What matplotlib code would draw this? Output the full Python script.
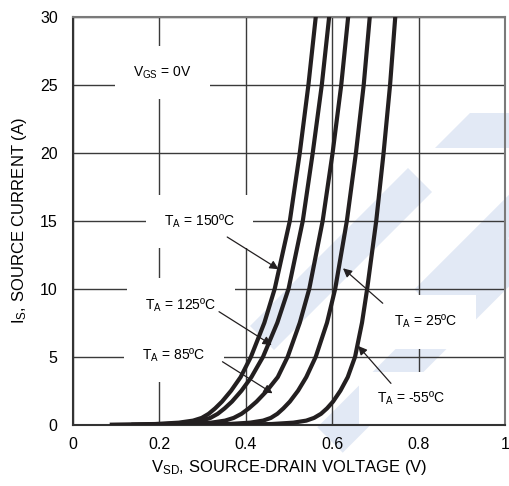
import matplotlib
matplotlib.use("Agg")
import matplotlib.pyplot as plt
import numpy as np
from matplotlib.patches import Polygon

plt.rcParams['font.family'] = ['Liberation Sans', 'DejaVu Sans']
plt.rcParams['mathtext.default'] = 'regular'

# Source current levels (A) at which the forward voltage was read
current = [0, 0.05, 0.15, 0.3, 0.5, 0.8, 1.2, 1.7, 2.5, 3.5, 5, 7.5, 10, 15, 20, 25, 30]

# Source-drain voltage (V) for each junction temperature
v_150 = [0.085, 0.19, 0.245, 0.278, 0.298, 0.314, 0.329, 0.345, 0.366, 0.388, 0.412,
         0.443, 0.467, 0.502, 0.525, 0.545, 0.562]
v_125 = [0.135, 0.215, 0.265, 0.298, 0.318, 0.335, 0.351, 0.368, 0.390, 0.413, 0.440,
         0.473, 0.499, 0.532, 0.555, 0.576, 0.593]
v_85 = [0.20, 0.27, 0.32, 0.352, 0.372, 0.39, 0.407, 0.425, 0.449, 0.474, 0.497,
        0.525, 0.547, 0.578, 0.601, 0.621, 0.637]
v_25 = [0.28, 0.36, 0.41, 0.44, 0.458, 0.473, 0.487, 0.502, 0.521, 0.540, 0.562,
        0.588, 0.607, 0.634, 0.655, 0.673, 0.687]
v_m55 = [0.38, 0.46, 0.51, 0.54, 0.558, 0.574, 0.588, 0.602, 0.619, 0.636, 0.653,
         0.669, 0.681, 0.702, 0.719, 0.734, 0.746]

curves = [v_150, v_125, v_85, v_25, v_m55]

# label text, label position, arrow tail, arrow tip (data coords)
labels = [
    (r'T$_{A}$ = 150ºC', (0.292, 14.93), (0.357, 13.8), (0.476, 11.43)),
    (r'T$_{A}$ = 125ºC', (0.250, 8.80), (0.338, 8.31), (0.460, 5.86)),
    (r'T$_{A}$ = 85ºC', (0.234, 5.13), (0.346, 4.63), (0.462, 2.31)),
    (r'T$_{A}$ = 25ºC', (0.817, 7.57), (0.717, 8.93), (0.625, 11.5)),
    (r'T$_{A}$ = -55ºC', (0.782, 1.94), (0.736, 3.04), (0.660, 5.79)),
]

W, H = 509, 486
fig = plt.figure(figsize=(W / 100, H / 100), dpi=100)
ax = fig.add_axes([73 / W, 1 - 424.7 / H, 432 / W, 408 / H])
ax.set_facecolor('none')


def band(p0, p1, width):
    # parallelogram along p0->p1 (figure pixels, y down) with the given width
    p0, p1 = np.array(p0, float), np.array(p1, float)
    d = (p1 - p0) / np.hypot(*(p1 - p0))
    n = np.array([-d[1], d[0]]) * width / 2
    pts = [p0 + n, p1 + n, p1 - n, p0 - n]
    return [(x / W, 1 - y / H) for x, y in pts]


# faint logo stripes behind the plot
stripe_color = '#e2e9f5'
logo = [
    band((262, 338), (420, 180), 34),
    band((330, 440), (520, 250), 36),
    band((425, 300), (520, 205), 30),
]
for pts in logo:
    fig.add_artist(Polygon(pts, closed=True, transform=fig.transFigure,
                           facecolor=stripe_color, edgecolor='none', zorder=-1))
top_piece = [(435, 148), (470, 113), (509, 113), (509, 148)]
fig.add_artist(Polygon([(x / W, 1 - y / H) for x, y in top_piece], closed=True,
                       transform=fig.transFigure, facecolor=stripe_color,
                       edgecolor='none', zorder=-1))

for v in curves:
    ax.plot(v, current, color='#231f20', lw=3, solid_capstyle='butt', zorder=3)

ax.set_xlim(0, 1)
ax.set_ylim(0, 30)
ax.set_xticks([0, 0.2, 0.4, 0.6, 0.8, 1])
ax.set_xticklabels(['0', '0.2', '0.4', '0.6', '0.8', '1'])
ax.set_yticks([0, 5, 10, 15, 20, 25, 30])
ax.tick_params(length=0, labelsize=11.5, pad=11)
ax.tick_params(axis='x', pad=9)
ax.grid(True, color='#3a3a3a', lw=1)
ax.set_axisbelow(True)
for side in ax.spines:
    ax.spines[side].set_color('#7a7a7a')
    ax.spines[side].set_linewidth(1.5)
ax.spines['bottom'].set_color('#333333')
ax.spines['left'].set_color('#333333')

ax.set_xlabel(r'V$_{SD}$, SOURCE-DRAIN VOLTAGE (V)', fontsize=12, labelpad=4)
ax.set_ylabel(r'I$_{S}$, SOURCE CURRENT (A)', fontsize=12, labelpad=8)

box = dict(boxstyle='square,pad=1.3', facecolor='white', edgecolor='none')
ax.text(0.207, 25.9, r'V$_{GS}$ = 0V', fontsize=10, ha='center', va='center',
        bbox=box, zorder=2)

for text, pos, start, tip in labels:
    ax.text(pos[0], pos[1], text, fontsize=10, ha='center', va='center',
            bbox=box, zorder=2)
    ax.annotate('', xy=tip, xytext=start,
                arrowprops=dict(arrowstyle='-|>', color='#231f20', lw=0.9,
                                mutation_scale=13, shrinkA=0, shrinkB=0),
                zorder=4)

fig.savefig('out.png', dpi=100)
